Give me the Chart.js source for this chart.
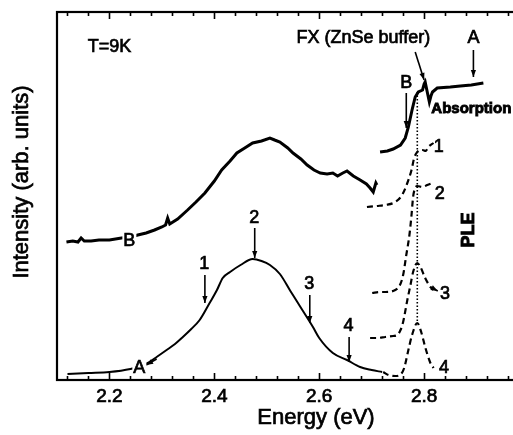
<!DOCTYPE html>
<html>
<head>
<meta charset="utf-8">
<script src="https://cdn.jsdelivr.net/npm/chart.js@4.4.1/dist/chart.umd.min.js"></script>
<style>
  html, body { margin: 0; padding: 0; background: #fff; overflow: hidden; }
  #wrap { width: 540px; height: 435px; }
</style>
</head>
<body>
<div id="wrap"><canvas id="chart" width="540" height="435"></canvas></div>
<script>
// energy (eV) / intensity (arb. units) pairs
const plA = [[2.12,6],[2.16,7],[2.20,8],[2.24,11],[2.26,14],[2.276,18],[2.29,23],[2.309,30],[2.325,36],
  [2.34,43],[2.356,51],[2.372,60],[2.391,77],[2.405,90],[2.416,102],[2.43,108],[2.45,115],[2.473,121],
  [2.49,119],[2.506,115],[2.525,106],[2.545,89],[2.563,74],[2.588,53],[2.60,42],[2.626,27],[2.653,20],
  [2.678,13],[2.70,10],[2.72,8]];
const plB = [[2.118,138],[2.13,139],[2.14,138],[2.146,142],[2.152,139],[2.165,139],[2.18,140],[2.20,140],
  [2.223,142],[2.24,143],[2.254,145],[2.27,147],[2.286,150],[2.30,153],[2.307,155],[2.311,162],[2.315,156],
  [2.33,161],[2.349,170],[2.365,178],[2.382,187],[2.40,199],[2.414,210],[2.43,219],[2.443,227],[2.458,232],
  [2.473,237],[2.49,239],[2.506,242],[2.515,240],[2.525,238],[2.54,232],[2.55,227],[2.565,221],[2.577,215],
  [2.59,210],[2.602,207],[2.615,206],[2.626,207],[2.635,204],[2.645,207],[2.653,209],[2.665,204],
  [2.678,200],[2.69,196],[2.697,192],[2.703,188],[2.708,197],[2.71,195]];
const absorption = [[2.716,228],[2.73,229],[2.741,231],[2.755,235],[2.764,242],[2.77,253],[2.777,270],
  [2.783,283],[2.789,288],[2.797,290],[2.800,296],[2.802,298],[2.806,288],[2.810,278],[2.813,284],
  [2.816,288],[2.825,292],[2.85,293],[2.869,294],[2.89,295],[2.913,297]];
const ple1 = [[2.691,173],[2.71,174],[2.726,175],[2.745,178],[2.758,185],[2.768,197],[2.776,210],
  [2.781,222],[2.787,228],[2.797,230],[2.803,229],[2.808,233],[2.818,237]];
const ple2 = [[2.701,87],[2.715,88],[2.726,88],[2.745,90],[2.754,95],[2.76,105],[2.766,125],[2.772,145],
  [2.776,165],[2.779,183],[2.783,192],[2.787,194],[2.797,193],[2.806,195],[2.816,197]];
const ple3 = [[2.697,42],[2.71,42],[2.726,43],[2.741,44],[2.749,45],[2.755,50],[2.76,58],[2.768,80],
  [2.774,95],[2.779,108],[2.787,117],[2.793,113],[2.802,102],[2.812,93],[2.818,90]];
const ple4 = [[2.722,8],[2.732,5],[2.745,4],[2.756,6],[2.762,12],[2.77,30],[2.777,45],[2.787,57],
  [2.795,47],[2.802,33],[2.812,17],[2.818,12]];
const fxLine = [[2.787,288],[2.787,57]];
const xTickLabels = [2.2, 2.4, 2.6, 2.8];

const FONT = '"Liberation Sans", Arial, Helvetica, sans-serif';

// text labels and arrows, in data coordinates
const labels = [
  {t: 'T=9K', x: 2.2, y: 334, size: 18},
  {t: 'FX (ZnSe buffer)', x: 2.684, y: 343, size: 18},
  {t: 'A', x: 2.894, y: 343, size: 18},
  {t: 'B', x: 2.766, y: 298, size: 18},
  {t: 'Absorption', x: 2.89, y: 272, size: 15, bold: true},
  {t: 'PLE', x: 2.883, y: 150, size: 18, bold: true, rot: true},
  {t: '1', x: 2.828, y: 234, size: 18},
  {t: '2', x: 2.83, y: 187, size: 18},
  {t: '3', x: 2.84, y: 87, size: 18},
  {t: '4', x: 2.838, y: 13, size: 18},
  {t: '1', x: 2.381, y: 117, size: 18},
  {t: '2', x: 2.476, y: 163, size: 18},
  {t: '3', x: 2.581, y: 97, size: 18},
  {t: '4', x: 2.656, y: 55, size: 18},
  {t: 'A', x: 2.257, y: 13, size: 18, bg: true},
  {t: 'B', x: 2.238, y: 140, size: 18, bg: true}
];
const arrows = [
  [2.382,105,2.382,77], [2.477,152,2.477,122], [2.582,85,2.582,57], [2.657,43,2.657,18],
  [2.894,330,2.894,303], [2.766,287,2.766,252], [2.783,328,2.800,300],
  [2.29,21,2.27,15], [2.812,93,2.826,89]
];

const pts = arr => arr.map(([x, y]) => ({x, y}));
const line = (data, width, dash, smooth) => ({
  data: pts(data), showLine: true, borderColor: '#000', borderWidth: width,
  borderDash: dash || [], pointRadius: 0, fill: false,
  cubicInterpolationMode: smooth ? 'monotone' : 'default', tension: 0
});

function heavyText(ctx, t, x, y, w) {
  ctx.fillText(t, x, y);
  ctx.lineWidth = w || 0.7;
  ctx.strokeText(t, x, y);
}

const decor = {
  id: 'decor',
  afterDatasetsDraw(chart) {
    const {ctx, chartArea: a, scales: {x, y}} = chart;
    ctx.save();
    ctx.strokeStyle = '#000';
    ctx.fillStyle = '#000';
    // minor / major inward ticks on bottom and top
    ctx.lineWidth = 1.6;
    for (let i = 0; ; i++) {
      const v = 2.0 + i * 0.04;
      if (v > x.max) break;
      if (v <= x.min) continue;
      const major = Math.abs(v * 5 - Math.round(v * 5)) < 1e-6;
      const len = major ? 7 : 4;
      const px = Math.round(x.getPixelForValue(v)) + 0.5;
      ctx.beginPath();
      ctx.moveTo(px, a.bottom); ctx.lineTo(px, a.bottom - len);
      ctx.moveTo(px, a.top); ctx.lineTo(px, a.top + len);
      ctx.stroke();
    }
    // frame
    ctx.lineWidth = 2.2;
    ctx.strokeRect(a.left, a.top, a.right - a.left, a.bottom - a.top);
    // arrows
    ctx.lineWidth = 1.6;
    arrows.forEach(([x1, y1, x2, y2]) => {
      const p1 = [x.getPixelForValue(x1), y.getPixelForValue(y1)];
      const p2 = [x.getPixelForValue(x2), y.getPixelForValue(y2)];
      const ang = Math.atan2(p2[1] - p1[1], p2[0] - p1[0]);
      ctx.beginPath(); ctx.moveTo(p1[0], p1[1]); ctx.lineTo(p2[0], p2[1]); ctx.stroke();
      ctx.beginPath();
      ctx.moveTo(p2[0], p2[1]);
      ctx.lineTo(p2[0] - 7 * Math.cos(ang) + 2.6 * Math.sin(ang), p2[1] - 7 * Math.sin(ang) - 2.6 * Math.cos(ang));
      ctx.lineTo(p2[0] - 7 * Math.cos(ang) - 2.6 * Math.sin(ang), p2[1] - 7 * Math.sin(ang) + 2.6 * Math.cos(ang));
      ctx.closePath(); ctx.fill();
    });
    // text
    ctx.textAlign = 'center';
    ctx.textBaseline = 'middle';
    labels.forEach(l => {
      ctx.font = (l.bold ? 'bold ' : '') + l.size + 'px ' + FONT;
      const px = x.getPixelForValue(l.x), py = y.getPixelForValue(l.y);
      ctx.save();
      ctx.translate(px, py);
      if (l.rot) ctx.rotate(-Math.PI / 2);
      if (l.bg) {
        const w = ctx.measureText(l.t).width;
        ctx.fillStyle = '#fff';
        ctx.fillRect(-w / 2 - 1, -l.size / 2, w + 2, l.size);
        ctx.fillStyle = '#000';
      }
      heavyText(ctx, l.t, 0, 1, l.bold ? 0.9 : 0.7);
      ctx.restore();
    });
    // axis titles
    ctx.font = '22px ' + FONT;
    heavyText(ctx, 'Energy (eV)', 316, 418);
    ctx.save();
    ctx.translate(22, 182);
    ctx.rotate(-Math.PI / 2);
    heavyText(ctx, 'Intensity (arb. units)', 0, 0);
    ctx.restore();
    ctx.restore();
  }
};

new Chart(document.getElementById('chart'), {
  type: 'scatter',
  data: {
    datasets: [
      line(plA, 2, null, true),
      line(plB, 3),
      line(absorption, 3),
      line(ple1, 2.2, [6, 4], true),
      line(ple2, 2.2, [6, 4], true),
      line(ple3, 2.2, [6, 4], true),
      line(ple4, 2.2, [6, 4], true),
      line(fxLine, 1.6, [1.5, 2])
    ]
  },
  options: {
    responsive: false,
    animation: false,
    layout: {padding: {top: 12, right: 11, left: 0, bottom: 0}},
    plugins: {legend: {display: false}, tooltip: {enabled: false}},
    scales: {
      x: {
        type: 'linear', min: 2.1, max: 3.0,
        grid: {display: false, drawTicks: false},
        border: {display: false},
        afterBuildTicks: s => { s.ticks = xTickLabels.map(v => ({value: v})); },
        afterFit: s => { s.height = 55; },
        ticks: {color: '#000', font: {size: 19, family: FONT}, padding: 5,
          textStrokeColor: '#000', textStrokeWidth: 0.7,
          maxRotation: 0, autoSkip: false, callback: v => v.toFixed(1)}
      },
      y: {
        min: 0, max: 368,
        grid: {display: false, drawTicks: false},
        border: {display: false},
        ticks: {display: false},
        afterFit: s => { s.width = 57; }
      }
    }
  },
  plugins: [decor]
});
</script>
</body>
</html>
